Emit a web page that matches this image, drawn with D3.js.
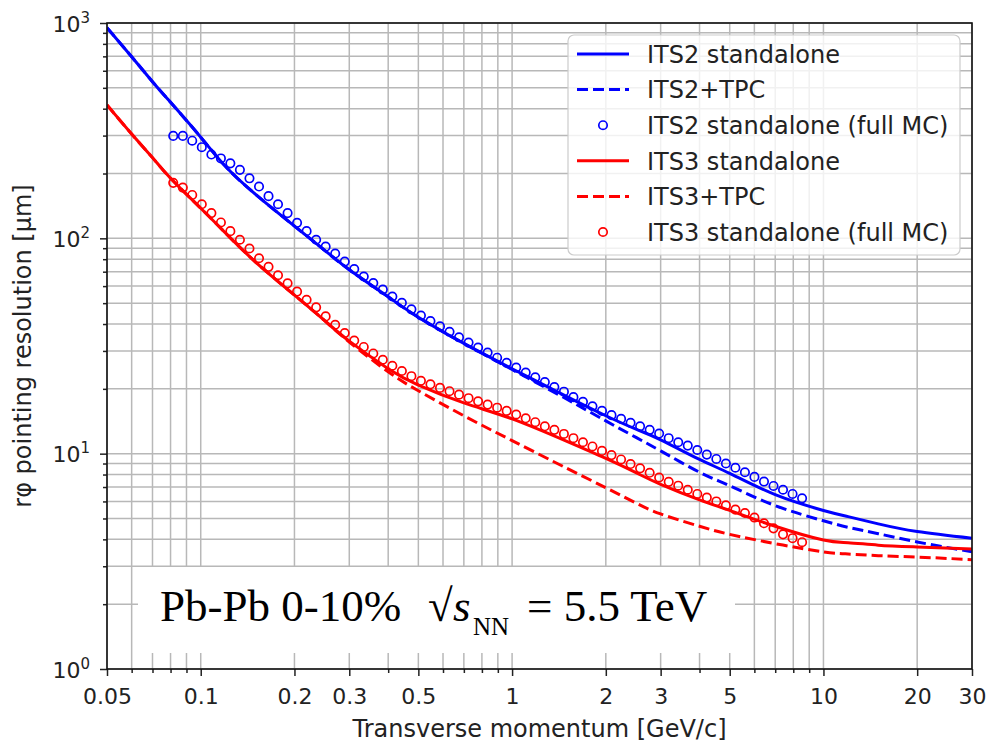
<!DOCTYPE html>
<html><head><meta charset="utf-8">
<script src="https://cdn.jsdelivr.net/npm/d3@7/dist/d3.min.js"></script>
<style>body{margin:0;background:#fff}</style>
</head><body><svg id="c" width="988" height="743"></svg>
<script>
// ---- data ----
const ptGrid  = [0.05,0.06,0.07,0.08,0.1,0.12,0.15,0.2,0.25,0.3,0.4,0.5,0.7,1,1.5,2,2.5,3,4,5,7,10,12,15,20,30];
const its2SA  = [950,697,534,428,295,216,160,114,88,71.5,53.5,43,32.5,24.8,18.4,15.0,13.0,11.6,9.4,8.1,6.45,5.45,5.1,4.72,4.35,4.05];
const its2TPC = [950,697,534,428,295,216,160,114,88,71.5,53.5,43,32.5,24.6,17.9,14.2,11.9,10.3,8.2,7.1,5.74,4.88,4.55,4.25,3.89,3.5];
const its3SA  = [416,305,237,190,138,106,77.6,54.5,41.5,33.3,24.8,20.8,17.2,14.5,11.4,9.5,8.16,7.2,6.1,5.45,4.6,3.97,3.86,3.76,3.69,3.61];
const its3TPC = [416,305,237,190,138,106,77.6,54.5,41.5,33.0,24.0,19.6,15.0,11.5,8.55,6.95,5.9,5.25,4.6,4.22,3.82,3.5,3.42,3.36,3.31,3.22];

const mcPt = [0.0816,0.0876,0.0939,0.1008,0.1082,0.1161,0.1245,0.1336,0.1434,0.1539,0.1651,0.1771,0.1901,0.2039,0.2188,0.2348,
  0.2519,0.2703,0.2901,0.3112,0.3339,0.3583,0.3845,0.4125,0.4426,0.4750,0.5096,0.5468,0.5867,0.6296,0.6755,0.7248,0.7777,
  0.8345,0.8954,0.9609,1.031,1.106,1.187,1.274,1.367,1.467,1.574,1.689,1.812,1.944,2.086,2.239,2.402,2.577,2.766,2.967,
  3.184,3.417,3.666,3.934,4.221,4.529,4.860,5.214,5.595,6.003,6.442,6.912,7.416,7.958,8.539];
const its2MC = [299,299,284,265,245,235,223,208,190,174,157,144,131,118,108,98.5,91.5,85,78,72,66.5,62,57.8,53.7,50.2,46.8,
  43.8,41.3,39.0,36.8,34.7,32.8,31.1,29.5,27.9,26.4,25.1,23.8,22.6,21.5,20.4,19.4,18.3,17.4,16.6,15.8,15.1,14.5,13.9,13.4,
  12.9,12.4,11.8,11.3,10.9,10.4,9.9,9.45,9.0,8.6,8.2,7.8,7.42,7.08,6.8,6.5,6.2];
const its3MC = [181,172,159,144,131,118.5,108,98.5,89.7,80.8,73.7,67.4,61.8,56.6,51.8,47.8,43.4,39.7,36.3,33.5,31.3,29.2,
  27.3,25.6,24.2,22.9,21.8,21.0,20.2,19.5,18.8,18.1,17.5,16.9,16.35,15.8,15.2,14.6,14.0,13.4,12.9,12.35,11.8,11.3,10.8,
  10.3,9.85,9.4,8.95,8.55,8.15,7.75,7.4,7.1,6.8,6.5,6.25,6.0,5.75,5.5,5.3,5.05,4.75,4.5,4.22,4.05,3.88];

const xTickLabels = [0.05,0.1,0.2,0.3,0.5,1,2,3,5,10,20,30];
const yTickExps = [0,1,2,3];
const legendLabels = ["ITS2 standalone","ITS2+TPC","ITS2 standalone (full MC)","ITS3 standalone","ITS3+TPC","ITS3 standalone (full MC)"];
const xLabel = "Transverse momentum [GeV/c]";
const yLabel = "rφ pointing resolution [μm]";

// ---- chart ----
const svg = d3.select("#c");
const L=107, R=972, T=23, B=669;
const x = d3.scaleLog().domain([0.05,30]).range([L,R]);
const y = d3.scaleLog().domain([1,1000]).range([B,T]);
const BLUE="#0000ff", RED="#ff0000", GRID="#b8b8b8", FONT="DejaVu Sans";

const xGrid=[], yGrid=[];
[0.01,0.1,1,10].forEach(d=>{for(let k=1;k<=9;k++){const v=+(k*d).toPrecision(3); if(v>=0.05-1e-9&&v<=30+1e-9) xGrid.push(v);}});
[1,10,100].forEach(d=>{for(let k=1;k<=9;k++) yGrid.push(k*d);}); yGrid.push(1000);

const g = svg.append("g");
g.selectAll("line.gx").data(xGrid).enter().append("line")
  .attr("x1",d=>x(d)).attr("x2",d=>x(d)).attr("y1",T).attr("y2",B)
  .attr("stroke",GRID).attr("stroke-width",1.5);
g.selectAll("line.gy").data(yGrid).enter().append("line")
  .attr("x1",L).attr("x2",R).attr("y1",d=>y(d)).attr("y2",d=>y(d))
  .attr("stroke",GRID).attr("stroke-width",1.5);

// text box (behind data)
svg.append("rect").attr("x",138).attr("y",567).attr("width",597).attr("height",86).attr("fill","#fff");
const tb = svg.append("text").attr("y",621).attr("font-family","Liberation Serif").attr("font-size",45).attr("fill","#000");
tb.append("tspan").attr("x",160).text("Pb-Pb 0-10%");
tb.append("tspan").attr("x",428).text("√");
tb.append("tspan").attr("x",453).attr("font-style","italic").text("s");
tb.append("tspan").attr("x",473).attr("dy",14).attr("font-size",25).text("NN");
tb.append("tspan").attr("x",527).attr("dy",-14).text("= 5.5 TeV");

// data
const clip = svg.append("defs").append("clipPath").attr("id","pc");
clip.append("rect").attr("x",L).attr("y",T).attr("width",R-L).attr("height",B-T);
const dg = svg.append("g").attr("clip-path","url(#pc)");
const line = d3.line().x(d=>x(d[0])).y(d=>y(d[1])).curve(d3.curveNatural);
function drawLine(vals,color,dash){
  dg.append("path").datum(ptGrid.map((p,i)=>[p,vals[i]])).attr("d",line)
    .attr("fill","none").attr("stroke",color).attr("stroke-width",3)
    .attr("stroke-dasharray",dash?"11,5":null);
}
function drawPts(vals,color){
  dg.append("g").selectAll("circle").data(mcPt.map((p,i)=>[p,vals[i]])).enter().append("circle")
    .attr("cx",d=>x(d[0])).attr("cy",d=>y(d[1])).attr("r",4.2)
    .attr("fill","none").attr("stroke",color).attr("stroke-width",1.7);
}
drawLine(its2SA,BLUE,false); drawLine(its2TPC,BLUE,true); drawPts(its2MC,BLUE);
drawLine(its3SA,RED,false); drawLine(its3TPC,RED,true); drawPts(its3MC,RED);

// axes
const minorX = xGrid.filter(v=>!xTickLabels.some(t=>Math.abs(t-v)<1e-9));
const ax = svg.append("g").attr("transform",`translate(0,${B})`);
ax.append("g").call(d3.axisBottom(x).tickValues(minorX).tickSize(4).tickFormat(""))
  .call(s=>s.select(".domain").remove());
ax.append("g").call(d3.axisBottom(x).tickValues(xTickLabels).tickSize(7).tickPadding(12).tickFormat(d=>String(d)))
  .call(s=>s.select(".domain").remove())
  .call(s=>s.selectAll("text").attr("font-family",FONT).attr("font-size",22).attr("fill","#222"));
ax.selectAll("line").attr("stroke","#222").attr("stroke-width",1.5);

const ay = svg.append("g").attr("transform",`translate(${L},0)`);
ay.append("g").call(d3.axisLeft(y).tickValues(yGrid.filter(v=>![1,10,100,1000].includes(v))).tickSize(4).tickFormat(""))
  .call(s=>s.select(".domain").remove());
ay.append("g").call(d3.axisLeft(y).tickValues(yTickExps.map(e=>Math.pow(10,e))).tickSize(7).tickFormat(""))
  .call(s=>s.select(".domain").remove());
ay.selectAll("line").attr("stroke","#222").attr("stroke-width",1.5);
yTickExps.forEach(e=>{
  const t = svg.append("text").attr("x",90).attr("y",y(Math.pow(10,e))+8.5)
    .attr("text-anchor","end").attr("font-family",FONT).attr("font-size",22).attr("fill","#222");
  t.append("tspan").text("10");
  t.append("tspan").attr("font-size",15).attr("dy",-9).text(String(e));
});

// frame
svg.append("rect").attr("x",L).attr("y",T).attr("width",R-L).attr("height",B-T)
  .attr("fill","none").attr("stroke","#111").attr("stroke-width",1.6);

// axis labels
svg.append("text").attr("x",(L+R)/2).attr("y",737).attr("text-anchor","middle")
  .attr("font-family",FONT).attr("font-size",24).attr("fill","#222").text(xLabel);
svg.append("text").attr("transform",`translate(31,${(T+B)/2}) rotate(-90)`).attr("text-anchor","middle")
  .attr("font-family",FONT).attr("font-size",24).attr("fill","#222").text(yLabel);

// legend
const lg = svg.append("g");
lg.append("rect").attr("x",568).attr("y",35).attr("width",392).attr("height",220).attr("rx",6)
  .attr("fill","#fff").attr("fill-opacity",0.8).attr("stroke","#cccccc").attr("stroke-width",1.2);
const legendStyle = [[BLUE,"solid"],[BLUE,"dash"],[BLUE,"circle"],[RED,"solid"],[RED,"dash"],[RED,"circle"]];
legendLabels.forEach((lab,i)=>{
  const cy = 54 + i*35.6;
  const [c,type] = legendStyle[i];
  if(type==="circle"){
    lg.append("circle").attr("cx",603).attr("cy",cy).attr("r",4.2).attr("fill","none").attr("stroke",c).attr("stroke-width",1.7);
  } else {
    lg.append("line").attr("x1",577).attr("x2",629).attr("y1",cy).attr("y2",cy).attr("stroke",c).attr("stroke-width",3)
      .attr("stroke-dasharray",type==="dash"?"11,5":null);
  }
  lg.append("text").attr("x",647).attr("y",cy+8.8).attr("font-family",FONT).attr("font-size",24).attr("fill","#222").text(lab);
});
</script></body></html>
